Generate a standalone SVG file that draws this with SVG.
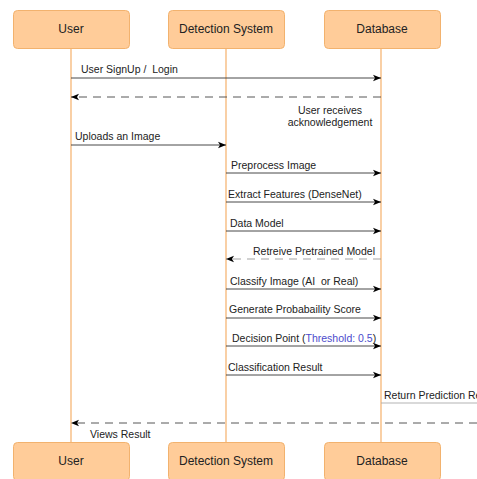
<svg xmlns="http://www.w3.org/2000/svg" width="477" height="479" viewBox="0 0 477 479">
<defs>
<style>
.box{fill:#FFCC99;stroke:#F2B26E;stroke-width:1}
.life{stroke:#F5B06A;stroke-width:1.2;fill:none}
.lbl{font-family:"Liberation Sans",Arial,sans-serif;font-size:12px;fill:#222;text-anchor:middle;dominant-baseline:central}
.msg{font-family:"Liberation Sans",Arial,sans-serif;font-size:10.5px;fill:#222;white-space:pre}
.ln{stroke:#333;stroke-width:0.9;fill:none}
.dash{stroke:#444;stroke-width:0.9;fill:none;stroke-dasharray:8 6}
</style>
<marker id="ah" viewBox="0 0 10 10" refX="10" refY="5" markerWidth="8" markerHeight="8" markerUnits="userSpaceOnUse" orient="auto">
<path d="M0,1 L10,5 L0,9 L2.5,5 Z" fill="#000"/>
</marker>
</defs>
<rect width="477" height="479" fill="#fff"/>
<g id="lifelines">
<line class="life" x1="71" y1="48" x2="71" y2="442"/>
<line class="life" x1="226" y1="48" x2="226" y2="442"/>
<line class="life" x1="381" y1="48" x2="381" y2="442"/>
</g>
<g id="user-top"><rect class="box" x="13.5" y="10.5" width="116" height="38" rx="4"/><text class="lbl" x="71" y="29">User</text></g>
<g id="detection-top"><rect class="box" x="168.5" y="10.5" width="116" height="38" rx="4"/><text class="lbl" x="226" y="29">Detection System</text></g>
<g id="database-top"><rect class="box" x="324.5" y="10.5" width="116" height="38" rx="4"/><text class="lbl" x="382" y="29">Database</text></g>
<g id="user-bottom"><rect class="box" x="13.5" y="442.5" width="116" height="38" rx="4"/><text class="lbl" x="71" y="461">User</text></g>
<g id="detection-bottom"><rect class="box" x="168.5" y="442.5" width="116" height="38" rx="4"/><text class="lbl" x="226" y="461">Detection System</text></g>
<g id="database-bottom"><rect class="box" x="324.5" y="442.5" width="116" height="38" rx="4"/><text class="lbl" x="382" y="461">Database</text></g>
<g id="connectors">
<line class="ln" x1="71" y1="78" x2="381" y2="78" marker-end="url(#ah)"/>
<line class="dash" x1="381" y1="97" x2="71" y2="97" marker-end="url(#ah)"/>
<line class="ln" x1="71" y1="145" x2="226" y2="145" marker-end="url(#ah)"/>
<line class="ln" x1="226" y1="173" x2="381" y2="173" marker-end="url(#ah)"/>
<line class="ln" x1="226" y1="202" x2="381" y2="202" marker-end="url(#ah)"/>
<line class="ln" x1="226" y1="231" x2="381" y2="231" marker-end="url(#ah)"/>
<line class="dash" x1="381" y1="259" x2="226" y2="259" style="stroke:#999" marker-end="url(#ah)"/>
<line class="ln" x1="226" y1="289" x2="381" y2="289" marker-end="url(#ah)"/>
<line class="ln" x1="226" y1="318" x2="381" y2="318" marker-end="url(#ah)"/>
<line class="ln" x1="226" y1="346" x2="381" y2="346" marker-end="url(#ah)"/>
<line class="ln" x1="226" y1="375" x2="381" y2="375" marker-end="url(#ah)"/>
<line x1="381" y1="403" x2="477" y2="403" stroke="#aaa" stroke-width="0.9"/>
<line class="dash" x1="477" y1="423" x2="71" y2="423" marker-end="url(#ah)"/>
<text class="msg" x="81" y="73">User SignUp /  Login</text>
<text class="msg" x="330" y="114" text-anchor="middle">User receives</text>
<text class="msg" x="330" y="126" text-anchor="middle">acknowledgement</text>
<text class="msg" x="75" y="140">Uploads an Image</text>
<text class="msg" x="231" y="169">Preprocess Image</text>
<text class="msg" x="228" y="198">Extract Features (DenseNet)</text>
<text class="msg" x="230" y="227">Data Model</text>
<text class="msg" x="253" y="255">Retreive Pretrained Model</text>
<text class="msg" x="230" y="285">Classify Image (AI  or Real)</text>
<text class="msg" x="229" y="313">Generate Probabaility Score</text>
<text class="msg" x="232" y="342">Decision Point (<tspan fill="#4B4BCC">Threshold: 0.5</tspan>)</text>
<text class="msg" x="228" y="371">Classification Result</text>
<text class="msg" x="384" y="399">Return Prediction Result</text>
<text class="msg" x="90" y="438">Views Result</text>
</g>
</svg>
